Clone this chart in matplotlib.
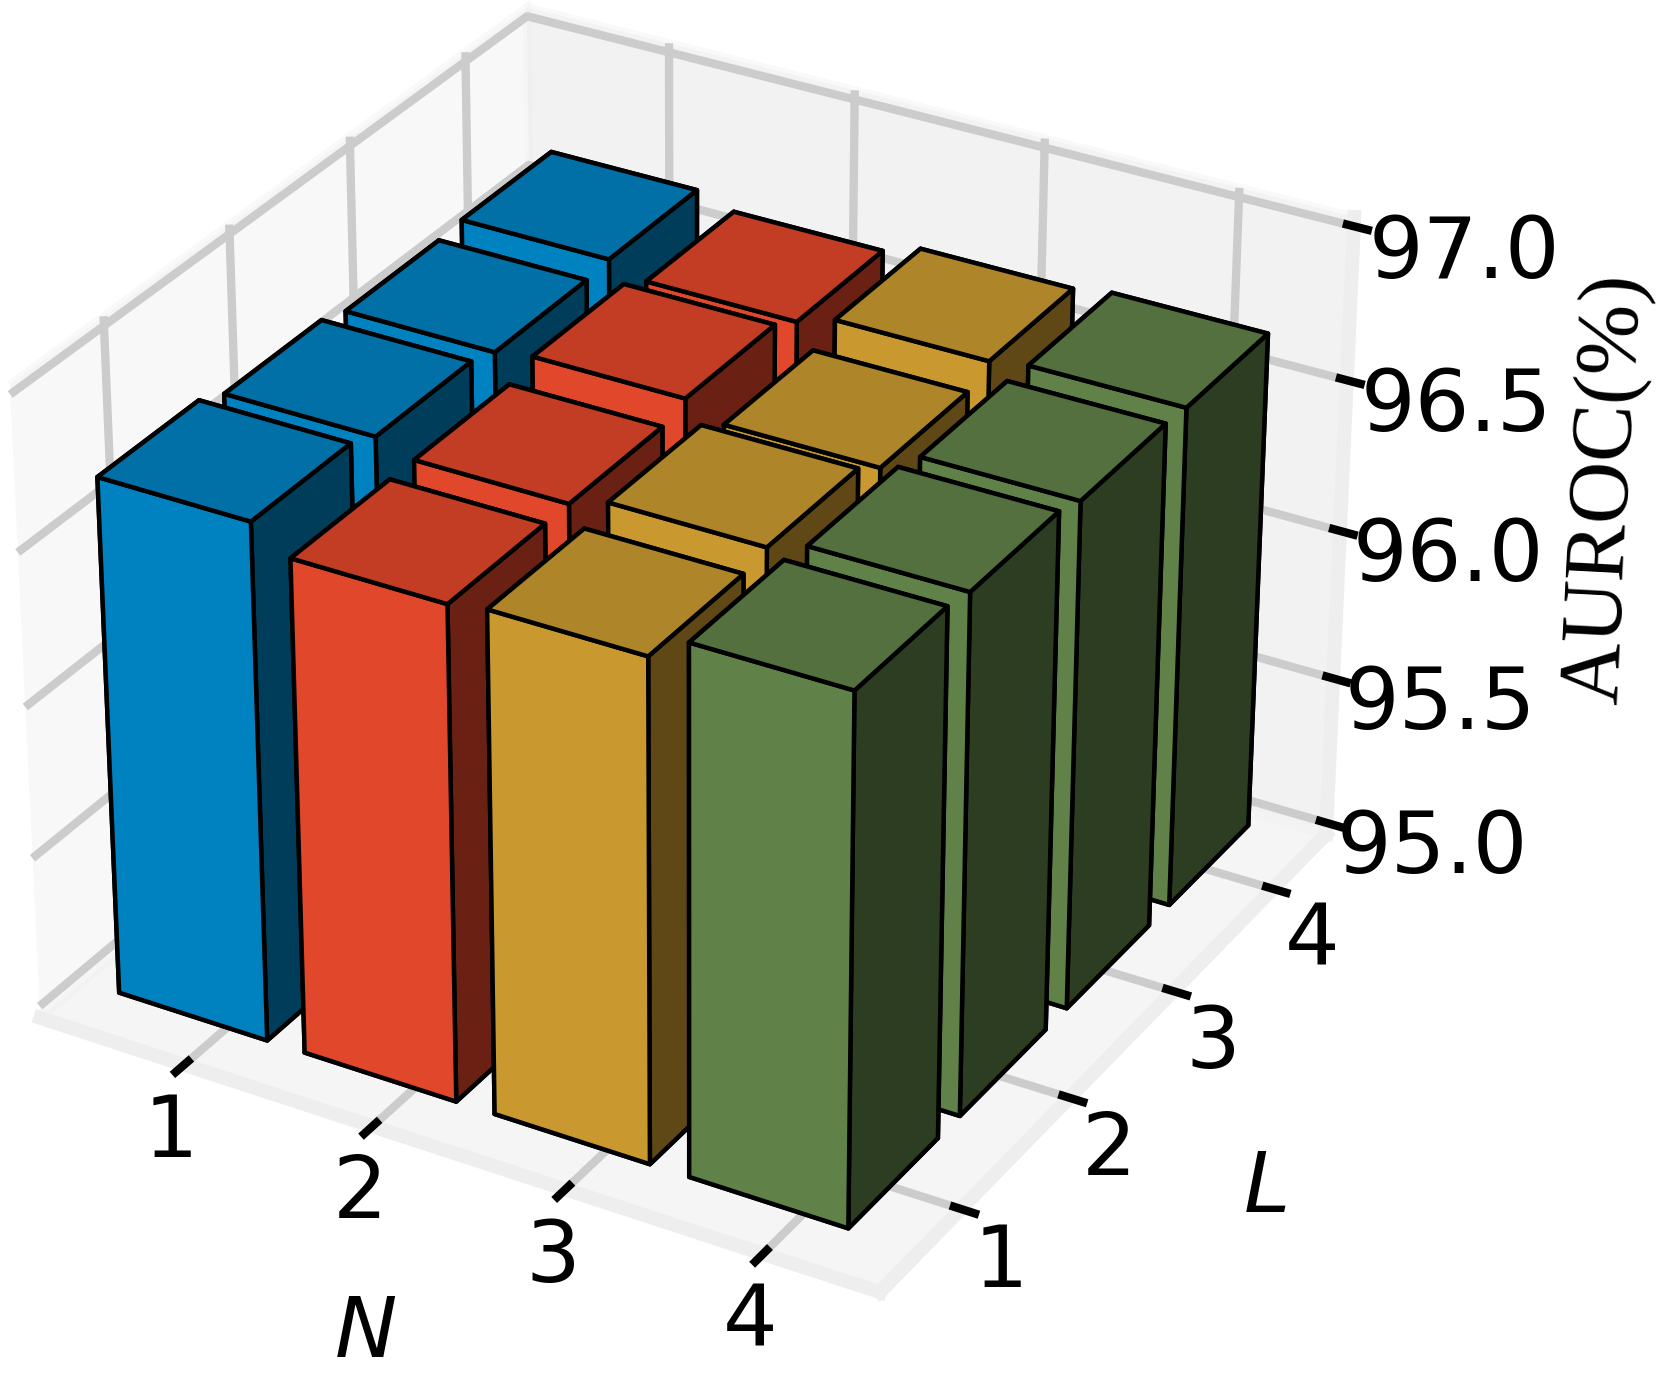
import numpy as np
import matplotlib
matplotlib.use('Agg')
import matplotlib.pyplot as plt

# grid of the two parameters
n_labels = [1, 2, 3, 4]
l_labels = [1, 2, 3, 4]
z_ticks = [95.0, 95.5, 96.0, 96.5, 97.0]

# AUROC values, one row per N, one column per L
auroc_n1 = [96.70, 96.66, 96.63, 96.64]
auroc_n2 = [96.62, 96.62, 96.65, 96.60]
auroc_n3 = [96.64, 96.66, 96.60, 96.64]
auroc_n4 = [96.72, 96.70, 96.67, 96.66]
colors = ['#0092D9', '#FF5030', '#E3AD35', '#6D9251']

plt.rcParams['mathtext.fontset'] = 'dejavusans'

fig = plt.figure(figsize=(16.58, 13.73), dpi=100)
ax = fig.add_axes([-0.088, -0.0098, 0.99, 1.0888], projection='3d')

auroc = np.array([auroc_n1, auroc_n2, auroc_n3, auroc_n4])
xs, ys, dz, cs = [], [], [], []
for i in range(len(n_labels)):
    for j in range(len(l_labels)):
        xs.append(n_labels[i])
        ys.append(l_labels[j])
        dz.append(auroc[i, j] - 95.0)
        cs.append(colors[i])
xs = np.array(xs, dtype=float)
ys = np.array(ys, dtype=float)
dz = np.array(dz)

# bars sit a little left of their ticks, as in the original
ax.bar3d(xs - 0.53, ys - 0.45, np.full_like(dz, 95.0), 0.8, 0.8, dz,
         color=cs, edgecolor='black', linewidth=3.2, shade=True)

ax.view_init(elev=30, azim=-60)
ax.set_xlim(0.22, 4.58)
ax.set_ylim(0.28, 4.55)
ax.set_zlim(94.96, 97.03)
ax.set_xticks(n_labels)
ax.set_yticks(l_labels, labels=[str(v) for v in l_labels], ha='left')
ax.set_zticks(z_ticks)
ax.set_zticklabels(['%.1f' % t for t in z_ticks])
ax.tick_params(axis='both', labelsize=62, pad=6)
ax.tick_params(axis='y', pad=0)
ax.tick_params(axis='z', pad=40)
ax.set_xlabel('$N$', fontsize=60, labelpad=72)
ax.set_ylabel('$L$', fontsize=60, labelpad=66)
ax.yaxis._axinfo['label']['ha'] = 'left'

for axis in [ax.xaxis, ax.yaxis, ax.zaxis]:
    axis._axinfo['grid']['linewidth'] = 6
    axis._axinfo['grid']['color'] = '#cccccc'
    axis._axinfo['tick']['linewidth'] = {True: 6, False: 3}
    axis._axinfo['tick']['color'] = 'black'
    axis.line.set_linewidth(10)
    axis.line.set_color('#eeeeee')
    axis.pane.set_edgecolor('#f4f4f4')
    axis.pane.set_linewidth(6)

fig.text(0.969, 0.644, 'AUROC(%)', fontsize=62, family='Liberation Serif',
         rotation=87, ha='center', va='center')

fig.savefig('out.png', dpi=100)
